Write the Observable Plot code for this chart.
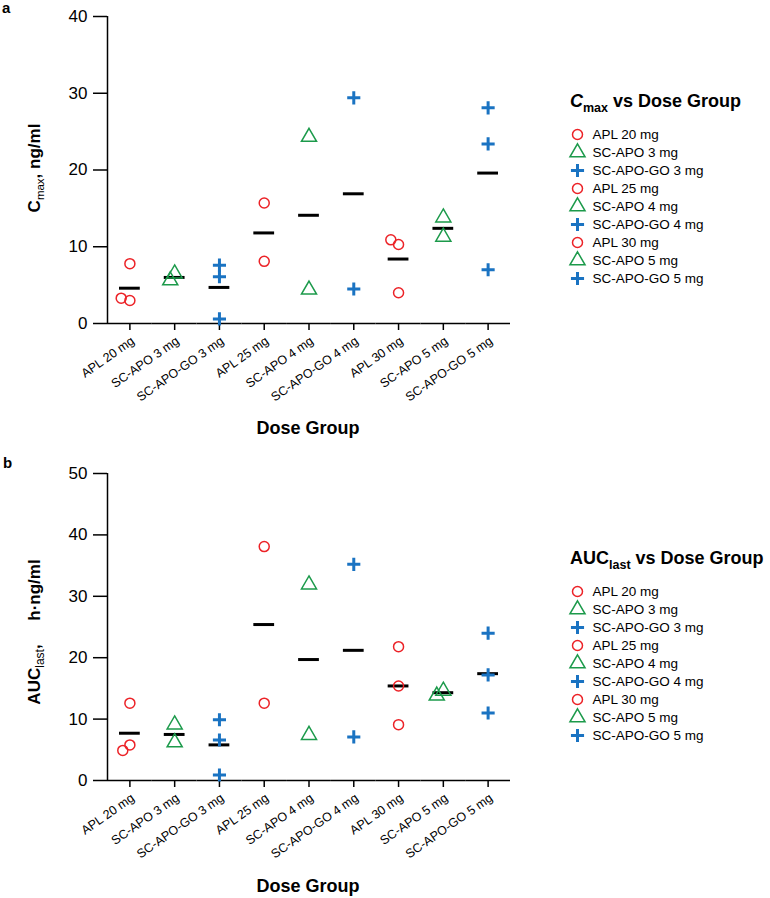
<!DOCTYPE html>
<html>
<head>
<meta charset="utf-8">
<script src="https://cdn.jsdelivr.net/npm/d3@7"></script>
<script src="https://cdn.jsdelivr.net/npm/@observablehq/plot@0.6"></script>
<style>
  html, body { margin: 0; padding: 0; background: #fff; }
  #root { position: relative; width: 770px; height: 898px; background: #fff; font-family: "Liberation Sans", Arial, Helvetica, sans-serif; color: #000; overflow: hidden; }
  .abs { position: absolute; white-space: nowrap; }
  .panel-letter { font-weight: bold; font-size: 15px; }
  .ytitle { font-weight: bold; font-size: 17px; transform: translate(-50%, -50%) rotate(-90deg); }
  .xtitle { font-weight: bold; font-size: 18px; transform: translate(-50%, -50%); }
  .ltitle { font-weight: bold; font-size: 18px; transform: translateY(-50%); }
  .sub { font-size: 11.5px; font-weight: normal; position: relative; top: 4px; }
  .sub2 { font-size: 12px; font-weight: normal; position: relative; top: 4px; }
  .lsub { font-size: 12.5px; font-weight: bold; position: relative; top: 5px; }
</style>
</head>
<body>
<div id="root"></div>
<script>
// ---------------- data ----------------
const groups = ["APL 20 mg", "SC-APO 3 mg", "SC-APO-GO 3 mg", "APL 25 mg", "SC-APO 4 mg", "SC-APO-GO 4 mg", "APL 30 mg", "SC-APO 5 mg", "SC-APO-GO 5 mg"];
const products = ["APL", "SC-APO", "SC-APO-GO", "APL", "SC-APO", "SC-APO-GO", "APL", "SC-APO", "SC-APO-GO"];

const cmaxValues = [[7.8, 3.0, 3.3], [6.5, 5.6], [7.6, 6.1, 0.6], [15.7, 8.1], [24.3, 4.4], [29.4, 4.5], [10.3, 10.9, 4.0], [13.8, 11.3], [28.1, 23.4, 7.0]];
const cmaxMeans = [4.6, 6.0, 4.7, 11.8, 14.1, 16.9, 8.4, 12.4, 19.6];
const cmaxTicks = [0, 10, 20, 30, 40];

const aucValues = [[12.6, 5.8, 4.9], [9.1, 6.2], [9.9, 6.6, 0.9], [38.1, 12.6], [31.9, 7.4], [35.2, 7.1], [21.8, 15.4, 9.1], [14.6, 13.8], [24.0, 17.2, 11.0]];
const aucMeans = [7.7, 7.5, 5.8, 25.4, 19.7, 21.2, 15.4, 14.3, 17.4];
const aucTicks = [0, 10, 20, 30, 40, 50];

const productNames = ["APL", "SC-APO", "SC-APO-GO"];
const productColors = ["#ec2227", "#1c9a4b", "#1a73c2"];
const productSymbols = ["circle", "triangle", "plus"];
const productRadius = [5, 5.6, 4.3];
const productStroke = [1.5, 1.5, 3];
const productPadding = [-1, -3, -3];

// ---------------- helpers ----------------
const FONT = '"Liberation Sans", Arial, Helvetica, sans-serif';
const root = document.getElementById("root");

function addDiv(cls, html, left, top) {
  const d = document.createElement("div");
  d.className = "abs " + cls;
  d.innerHTML = html;
  d.style.left = left + "px";
  d.style.top = top + "px";
  root.appendChild(d);
  return d;
}

function panel(values, means, ticks) {
  const pts = [];
  groups.forEach((g, i) => values[i].forEach(v => pts.push({group: g, product: products[i], value: v})));
  const meanRows = groups.map((g, i) => ({group: g, mean: means[i]}));
  const marks = [
    Plot.ruleY([0], {stroke: "#000", strokeWidth: 1.5}),
    Plot.ruleX([0], {facetAnchor: "left", stroke: "#000", strokeWidth: 1.5}),
    Plot.axisY({ticks, tickSize: 14, tickPadding: 6, fontSize: 17, label: null, strokeWidth: 1.5}),
    Plot.axisFx({anchor: "bottom", tickSize: 7, fill: "none", label: null, strokeWidth: 1.5}),
    Plot.axisFx({anchor: "bottom", tickRotate: -35, tickSize: 7, tickPadding: 9, dx: 3, stroke: "none", fontSize: 12.5, label: null}),
    Plot.tickY(meanRows, {fx: "group", y: "mean", stroke: "#000", strokeWidth: 3, insetLeft: 12, insetRight: 12})
  ];
  productNames.forEach((p, k) => {
    marks.push(Plot.dot(pts.filter(d => d.product === p), Plot.dodgeX({anchor: "middle", padding: productPadding[k], r: productRadius[k]}, {
      fx: "group", y: "value", r: productRadius[k],
      symbol: productSymbols[k], stroke: productColors[k], strokeWidth: productStroke[k], fill: "none"
    })));
  });
  return Plot.plot({
    width: 530, height: 410,
    marginLeft: 107, marginRight: 20, marginTop: 16, marginBottom: 87,
    fx: {domain: groups, padding: 0, round: false, label: null},
    x: {domain: [0, 1], axis: null},
    y: {domain: [0, ticks[ticks.length - 1]], label: null},
    style: {fontFamily: FONT, fontSize: "13px", color: "#000", background: "transparent", overflow: "visible"},
    marks
  });
}

function legend() {
  const rows = groups.map((g, i) => ({group: g, product: products[i]}));
  const marks = [];
  productNames.forEach((p, k) => {
    marks.push(Plot.dot(rows.filter(d => d.product === p), {
      y: "group", frameAnchor: "left", dx: 7, r: productRadius[k],
      symbol: productSymbols[k], stroke: productColors[k], strokeWidth: productStroke[k], fill: "none"
    }));
  });
  marks.push(Plot.text(rows, {y: "group", text: "group", frameAnchor: "left", dx: 22, textAnchor: "start", fontSize: 13.5, fill: "#000"}));
  return Plot.plot({
    width: 195, height: 171,
    marginLeft: 0, marginRight: 0, marginTop: 10, marginBottom: 10,
    y: {type: "point", domain: groups, padding: 0, axis: null},
    style: {fontFamily: FONT, fontSize: "13px", color: "#000", background: "transparent", overflow: "visible"},
    marks
  });
}

function place(el, left, top) {
  el.style.position = "absolute";
  el.style.left = left + "px";
  el.style.top = top + "px";
  root.appendChild(el);
}

// ---------------- panel a ----------------
place(panel(cmaxValues, cmaxMeans, cmaxTicks), 0, 0);
addDiv("panel-letter", "a", 2, -1);
addDiv("ytitle", 'C<span class="sub">max</span>, ng/ml', 35, 168);
addDiv("xtitle", "Dose Group", 308, 428);
addDiv("ltitle", '<i>C</i><span class="lsub">max</span> vs Dose Group', 570, 101);
place(legend(), 570, 120);

// ---------------- panel b ----------------
place(panel(aucValues, aucMeans, aucTicks), 0, 457);
addDiv("panel-letter", "b", 3, 454);
addDiv("ytitle", 'AUC<span class="sub2">last</span>,&nbsp;&nbsp;&nbsp;&nbsp; h·ng/ml', 35, 632);
addDiv("xtitle", "Dose Group", 308, 886);
addDiv("ltitle", 'AUC<span class="lsub">last</span> vs Dose Group', 570, 558);
place(legend(), 570, 577);
</script>
</body>
</html>
